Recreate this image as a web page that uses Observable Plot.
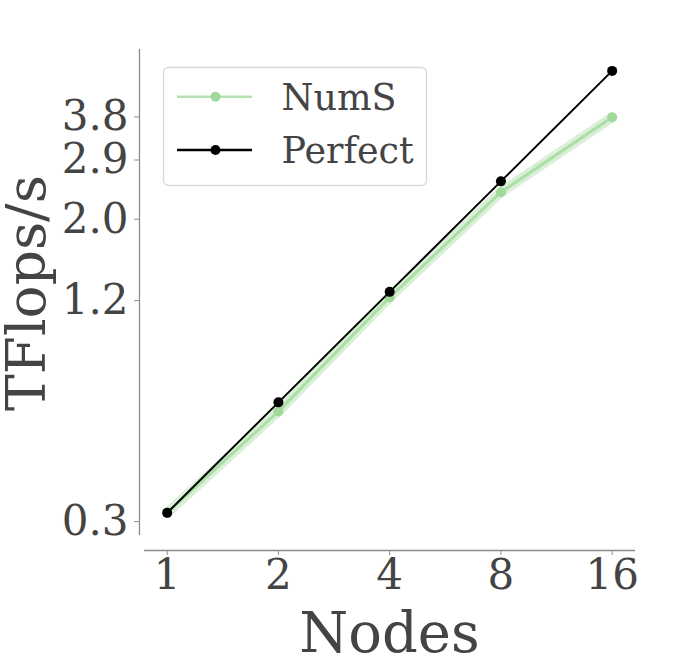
<!DOCTYPE html>
<html>
<head>
<meta charset="utf-8">
<script src="https://cdn.jsdelivr.net/npm/d3@7"></script>
<script src="https://cdn.jsdelivr.net/npm/@observablehq/plot@0.6"></script>
<style>
  html, body { margin: 0; padding: 0; background: #fff; }
  #chart { width: 698px; height: 663px; overflow: hidden; }
</style>
</head>
<body>
<div id="chart"></div>
<script>
// ---- data ----
const nodes = [1, 2, 4, 8, 16];
const numsTflops = [0.317, 0.599, 1.225, 2.37, 3.79];
const perfectTflops = [0.317, 0.634, 1.268, 2.536, 5.072];
const yTickValues = [0.3, 1.2, 2.0, 2.9, 3.8];
const yTickLabels = ["0.3", "1.2", "2.0", "2.9", "3.8"];
const xTickValues = [1, 2, 4, 8, 16];
const seriesNames = ["NumS", "Perfect"];

const numsColor = "#a1d99b";
const perfectColor = "#000000";
const textColor = "#444444";
const spineColor = "#8c8c8c";
const font = "'DejaVu Serif', serif";

const numsData = nodes.map((n, i) => ({n, v: numsTflops[i]}));
const perfectData = nodes.map((n, i) => ({n, v: perfectTflops[i]}));

const xDomain = [Math.pow(2, -0.204), Math.pow(2, 4.21)];
const yDomain = [0.275, 5.80];

const plot = Plot.plot({
  width: 698,
  height: 663,
  marginLeft: 139,
  marginRight: 63,
  marginTop: 49,
  marginBottom: 113,
  style: {fontFamily: font, background: "#fff", overflow: "visible"},
  x: {type: "log", base: 2, domain: xDomain, range: [144, 635]},
  y: {type: "log", domain: yDomain, range: [535, 49]},
  marks: [
    // spines (offset, despined style)
    Plot.ruleY([yDomain[0]], {x1: xDomain[0], x2: xDomain[1], dy: 15, stroke: spineColor, strokeWidth: 1.3}),
    Plot.ruleX([xDomain[0]], {y1: yDomain[0], y2: yDomain[1], dx: -5, stroke: spineColor, strokeWidth: 1.3}),
    Plot.axisX({ticks: xTickValues, tickFormat: d => String(d), tickSize: 5, tickPadding: 4,
      fontSize: 42, stroke: spineColor, fill: textColor, label: null}),
    Plot.axisY({ticks: yTickValues, tickFormat: d => yTickLabels[yTickValues.indexOf(d)],
      tickSize: 5, tickPadding: 6, fontSize: 42, stroke: spineColor, fill: textColor, label: null}),
    // NumS
    Plot.line(numsData, {x: "n", y: "v", stroke: numsColor, strokeWidth: 10, strokeOpacity: 0.4}),
    Plot.line(numsData, {x: "n", y: "v", stroke: numsColor, strokeWidth: 3, strokeOpacity: 0.8}),
    Plot.dot(numsData, {x: "n", y: "v", r: 5, fill: numsColor, stroke: null}),
    // Perfect
    Plot.line(perfectData, {x: "n", y: "v", stroke: perfectColor, strokeWidth: 2}),
    Plot.dot(perfectData, {x: "n", y: "v", r: 5, fill: perfectColor, stroke: null}),
    // axis titles
    Plot.text(["Nodes"], {frameAnchor: "bottom", dy: 101, dx: 2, lineAnchor: "bottom",
      fontSize: 56, fill: textColor, textAnchor: "middle"}),
    Plot.text(["TFlops/s"], {frameAnchor: "left", dx: -95, dy: -7, rotate: -90, lineAnchor: "bottom",
      fontSize: 55, fill: textColor, textAnchor: "middle"})
  ]
});

document.getElementById("chart").appendChild(plot);

// ---- legend ----
const svg = d3.select(plot);
const lg = svg.append("g").attr("class", "legend").attr("text-anchor", "start");
lg.append("rect").attr("x", 163.5).attr("y", 67.5).attr("width", 263).attr("height", 118)
  .attr("rx", 5).attr("fill", "#fff").attr("fill-opacity", 0.8)
  .attr("stroke", "#d9d9d9").attr("stroke-width", 1.3);
const legendItems = [
  {name: seriesNames[0], color: numsColor, y: 96.7, lineOpacity: 0.8},
  {name: seriesNames[1], color: perfectColor, y: 150, lineOpacity: 1}
];
legendItems.forEach(it => {
  lg.append("line").attr("x1", 177).attr("x2", 252).attr("y1", it.y).attr("y2", it.y)
    .attr("stroke", it.color).attr("stroke-width", 2.5).attr("stroke-opacity", it.lineOpacity);
  lg.append("circle").attr("cx", 215.5).attr("cy", it.y).attr("r", 5).attr("fill", it.color);
  lg.append("text").attr("x", 281.5).attr("y", it.y + 12.8).text(it.name)
    .attr("text-anchor", "start")
    .attr("font-family", font).attr("font-size", 36.5).attr("fill", textColor);
});
</script>
</body>
</html>
